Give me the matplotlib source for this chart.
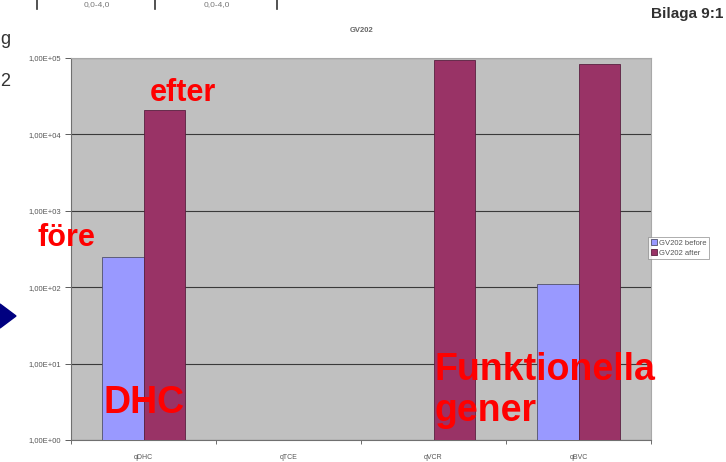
import numpy as np
import matplotlib
matplotlib.use("Agg")
import matplotlib.pyplot as plt
from matplotlib.patches import Polygon
from matplotlib.ticker import FixedLocator, FuncFormatter

# Gene copy numbers in well GV202, before and after treatment
categories = ["qDHC", "qTCE", "qVCR", "qBVC"]
before = [2.5e2, np.nan, np.nan, 1.1e2]
after = [2.1e4, np.nan, 9.4e4, 8.3e4]
series_names = ["GV202 before", "GV202 after"]
y_ticks = [1e0, 1e1, 1e2, 1e3, 1e4, 1e5]

plt.rcParams["font.family"] = ["Liberation Sans", "DejaVu Sans"]

fig = plt.figure(figsize=(7.26, 4.62), dpi=100)
W, H = 726, 462
ax = fig.add_axes([71 / W, 1 - 440 / H, (651 - 71) / W, (440 - 58) / H])
ax.set_facecolor("#C0C0C0")

x = np.arange(len(categories))
bw = 0.285
b1 = ax.bar(x - bw / 2, before, bw, color="#9999FF", edgecolor="#50506A",
            linewidth=0.6, label=series_names[0], zorder=3)
b2 = ax.bar(x + bw / 2, after, bw, color="#993366", edgecolor="#5A2040",
            linewidth=0.6, label=series_names[1], zorder=3)

ax.set_yscale("log")
ax.set_ylim(y_ticks[0], y_ticks[-1])
ax.set_xlim(-0.5, len(categories) - 0.5)
ax.yaxis.set_major_locator(FixedLocator(y_ticks))
ax.yaxis.set_minor_locator(FixedLocator([]))
ax.yaxis.set_major_formatter(FuncFormatter(
    lambda v, p: ("%.2E" % v).replace(".", ",")))
ax.grid(axis="y", color="#3A3A3A", linewidth=0.8, zorder=1)
ax.set_axisbelow(True)

ax.set_xticks(x)
ax.set_xticklabels(categories)
ax.set_xticks(np.arange(len(categories) + 1) - 0.5, minor=True)
ax.tick_params(axis="x", which="major", length=0, labelsize=5,
               labelcolor="#555555", pad=10)
ax.tick_params(axis="x", which="minor", length=3, color="#555555", width=0.6)
ax.tick_params(axis="y", length=4, color="#444444", width=0.6,
               labelsize=5.5, labelcolor="#555555", pad=3)
for side in ["top", "right"]:
    ax.spines[side].set_color("#A8A8A8")
    ax.spines[side].set_linewidth(0.8)
ax.spines["left"].set_color("#707070")
ax.spines["bottom"].set_color("#707070")
ax.spines["left"].set_linewidth(0.8)
ax.spines["bottom"].set_linewidth(0.8)

fig.text(362 / W, 1 - 30 / H, "GV202", ha="center", va="center",
         fontsize=5.5, fontweight="bold", color="#666666")

leg = fig.legend(handles=[b1, b2], labels=series_names, loc="center left",
                 bbox_to_anchor=(648 / W, 1 - 248 / H), fontsize=5.5,
                 frameon=True, fancybox=False, edgecolor="#888888",
                 handlelength=0.8, handleheight=0.8, handletextpad=0.3,
                 borderpad=0.35, labelspacing=0.25, borderaxespad=0)
leg.get_frame().set_linewidth(0.6)
for t in leg.get_texts():
    t.set_color("#555555")

# Red slide annotations
red = "#FF0000"
fig.text(150 / W, 1 - 93 / H, "efter", color=red, fontsize=22,
         fontweight="bold", va="center", ha="left")
fig.text(37 / W, 1 - 238 / H, "före", color=red, fontsize=22,
         fontweight="bold", va="center", ha="left")
fig.text(104 / W, 1 - 403 / H, "DHC", color=red, fontsize=27,
         fontweight="bold", va="center", ha="left")
fig.text(434 / W, 1 - 370 / H, "Funktionella", color=red, fontsize=27,
         fontweight="bold", va="center", ha="left")
fig.text(434 / W, 1 - 411 / H, "gener", color=red, fontsize=27,
         fontweight="bold", va="center", ha="left")

# Navy pointer on the left edge
fig.patches.append(Polygon([[0, 1 - 304 / H], [16 / W, 1 - 316 / H],
                            [0, 1 - 328 / H]], closed=True,
                           transform=fig.transFigure, color="#000080"))

# Slide header fragments
fig.text(723 / W, 1 - 14 / H, "Bilaga 9:1", ha="right", va="center",
         fontsize=11, fontweight="bold", color="#303030")
for xl in [37, 155, 277]:
    fig.add_artist(plt.Line2D([xl / W, xl / W], [1, 1 - 9 / H],
                              transform=fig.transFigure, color="#333333",
                              linewidth=1.2))
fig.text(97 / W, 1 - 5 / H, "0,0-4,0", ha="center", va="center",
         fontsize=6, color="#777777")
fig.text(217 / W, 1 - 5 / H, "0,0-4,0", ha="center", va="center",
         fontsize=6, color="#777777")
fig.text(0, 1 - 40 / H, "g", ha="left", va="center", fontsize=13,
         color="#333333")
fig.text(0, 1 - 82 / H, "2", ha="left", va="center", fontsize=13,
         color="#333333")

fig.savefig("out.png", dpi=100)
